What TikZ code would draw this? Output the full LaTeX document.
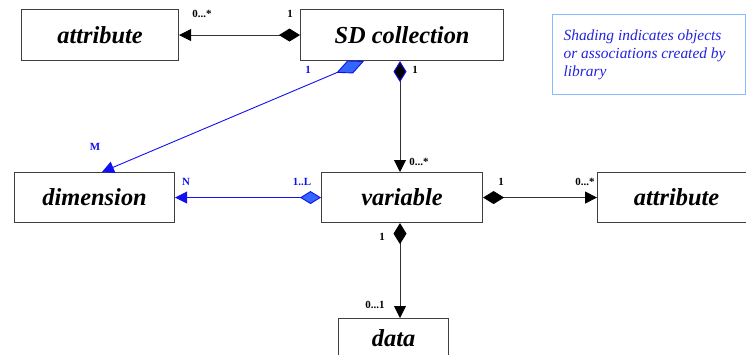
\documentclass[tikz,border=0pt]{standalone}
\usepackage{fontspec}
\setmainfont{Liberation Serif}
\usetikzlibrary{arrows.meta,calc}
\definecolor{ln}{HTML}{333333}
\definecolor{bd}{HTML}{404040}
\definecolor{bl}{HTML}{1010F0}
\definecolor{blfill}{HTML}{3366FF}
\definecolor{notebd}{HTML}{88BBFF}
\definecolor{notetx}{HTML}{2222DD}
\begin{document}
\begin{tikzpicture}[x=1bp,y=-1bp,
  cls/.style={draw=bd, line width=1.1bp, fill=white, inner sep=0pt,
    font=\fontsize{24.5}{28}\selectfont\bfseries\itshape, anchor=north west},
  lbl/.style={font=\fontsize{11}{12}\selectfont\bfseries, inner sep=0pt, text=black},
  blbl/.style={lbl, text=bl},
  assoc/.style={draw=ln, line width=0.9bp},
  comp/.style={assoc, {Diamond[length=21bp,width=13bp,color=black]}-{Triangle[length=12bp,width=12bp,color=black]}},
  compv/.style={assoc, {Diamond[length=21bp,width=13bp,fill=black,color=bl]}-{Triangle[length=12bp,width=12bp,color=black]}},
  bassoc/.style={draw=bl, line width=0.9bp, {Diamond[length=21bp,width=13bp,fill=blfill,color=bl]}-{Triangle[length=12bp,width=12bp,color=bl]}},
  bskew/.style={draw=bl, line width=0.9bp, {Diamond[length=30bp,width=14bp,fill=blfill,color=bl]}-{Triangle[length=12bp,width=12bp,color=bl]}},
  note/.style={draw=notebd, line width=1bp, inner sep=0pt, align=left, text=notetx,
    font=\fontsize{15.5}{18}\selectfont\itshape, anchor=north west}
]
\useasboundingbox (0,0) rectangle (746,354);
\clip (0,0) rectangle (746,354);

% classes
\node[cls, minimum width=157bp, minimum height=51bp] (attrL) at (21,9) {attribute};
\node[cls, minimum width=203bp, minimum height=51bp] (sd) at (300,9) {SD collection};
\node[cls, minimum width=160bp, minimum height=50bp] (dim) at (14,172) {dimension};
\node[cls, minimum width=161bp, minimum height=50bp] (var) at (321,172) {variable};
\node[cls, minimum width=158bp, minimum height=50bp] (attrR) at (597,172) {attribute};
\node[cls, minimum width=110bp, minimum height=40bp] (data) at (338,318) {data};

% note
\node[note, minimum width=193bp, minimum height=80bp] (nt) at (552,14)
  {Shading indicates objects\\or associations created by\\library\hspace*{128bp}};

% connectors
\draw[comp] (sd.west) -- (attrL.east);
\draw[compv] (sd.south -| 400,0) -- (var.north -| 400,0);
\draw[comp] (var.east) -- (attrR.west);
\draw[comp] (var.south -| 400,0) -- (data.north -| 400,0);
\draw[bassoc] (var.west) -- (dim.east);
\coordinate (sdb) at ($(sd.south west)+(64,0)$);
\coordinate (dimt) at ($(dim.north west)+(88,0)$);
\draw[bskew] (sdb) -- (dimt);

% multiplicities
\node[lbl] (m1) at (202,14) {0...*};
\node[lbl] (m2) at (290,14) {1};
\node[blbl] (m3) at (308,70) {1};
\node[lbl] (m4) at (415,70) {1};
\node[blbl] (m5) at (95,147) {M};
\node[lbl] (m6) at (419,162) {0...*};
\node[blbl] (m7) at (186,182) {N};
\node[blbl] (m8) at (302,182) {1..L};
\node[lbl] (m9) at (501,182) {1};
\node[lbl] (m10) at (585,182) {0...*};
\node[lbl] (m11) at (382,237) {1};
\node[lbl] (m12) at (375,305) {0...1};
\end{tikzpicture}
\end{document}
